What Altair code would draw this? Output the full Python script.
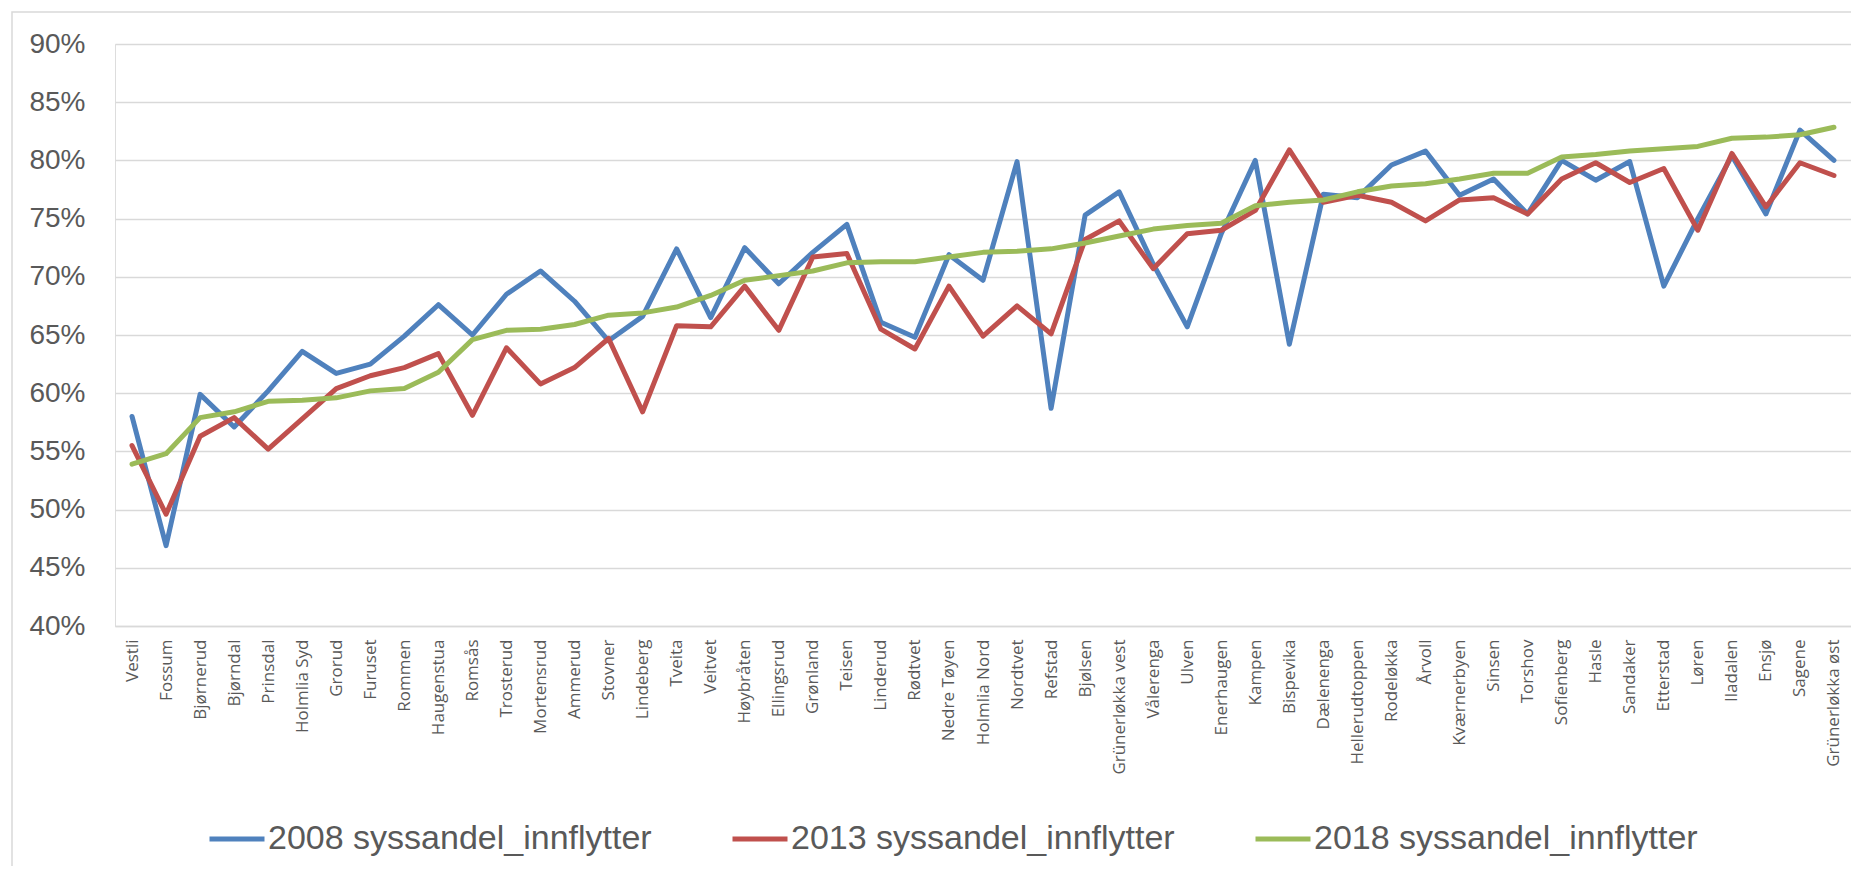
import altair as alt
import pandas as pd

categories = ["Vestli", "Fossum", "Bjørnerud", "Bjørndal", "Prinsdal", "Holmlia Syd", "Grorud",
              "Furuset", "Rommen", "Haugenstua", "Romsås", "Trosterud", "Mortensrud", "Ammerud",
              "Stovner", "Lindeberg", "Tveita", "Veitvet", "Høybråten", "Ellingsrud", "Grønland",
              "Teisen", "Linderud", "Rødtvet", "Nedre Tøyen", "Holmlia Nord", "Nordtvet", "Refstad",
              "Bjølsen", "Grünerløkka vest", "Vålerenga", "Ulven", "Enerhaugen", "Kampen", "Bispevika",
              "Dælenenga", "Hellerudtoppen", "Rodeløkka", "Årvoll", "Kværnerbyen", "Sinsen", "Torshov",
              "Sofienberg", "Hasle", "Sandaker", "Etterstad", "Løren", "Iladalen", "Ensjø", "Sagene",
              "Grünerløkka øst"]

v2008 = [58.0, 46.9, 59.9, 57.1, 60.2, 63.6, 61.7, 62.5, 64.9, 67.6, 65.0, 68.5, 70.5, 67.9,
         64.5, 66.6, 72.4, 66.5, 72.5, 69.4, 72.1, 74.5, 66.1, 64.8, 71.9, 69.7, 79.9, 58.7,
         75.3, 77.3, 71.1, 65.7, 73.7, 80.0, 64.2, 77.1, 76.8, 79.6, 80.8, 77.0, 78.4, 75.4,
         80.0, 78.3, 79.9, 69.2, 75.0, 80.4, 75.4, 82.6, 80.0]

v2013 = [55.5, 49.6, 56.3, 57.9, 55.2, 57.8, 60.4, 61.5, 62.2, 63.4, 58.1, 63.9, 60.8, 62.2,
         64.7, 58.4, 65.8, 65.7, 69.2, 65.4, 71.7, 72.0, 65.5, 63.8, 69.2, 64.9, 67.5, 65.1,
         73.2, 74.8, 70.7, 73.7, 74.0, 75.7, 80.9, 76.4, 77.0, 76.4, 74.8, 76.6, 76.8, 75.4,
         78.4, 79.8, 78.1, 79.3, 74.0, 80.6, 76.0, 79.8, 78.7]

v2018 = [53.9, 54.8, 57.9, 58.4, 59.3, 59.4, 59.6, 60.2, 60.4, 61.8, 64.6, 65.4, 65.5, 65.9,
         66.7, 66.9, 67.4, 68.4, 69.7, 70.1, 70.5, 71.2, 71.3, 71.3, 71.7, 72.1, 72.2, 72.4,
         72.9, 73.5, 74.1, 74.4, 74.6, 76.1, 76.4, 76.6, 77.3, 77.8, 78.0, 78.4, 78.9, 78.9,
         80.3, 80.5, 80.8, 81.0, 81.2, 81.9, 82.0, 82.2, 82.85]

series_names = ["2008 syssandel_innflytter", "2013 syssandel_innflytter", "2018 syssandel_innflytter"]
series_colors = ["#4F81BD", "#C0504D", "#9BBB59"]
y_ticks = [40, 45, 50, 55, 60, 65, 70, 75, 80, 85, 90]

rows = []
for name, vals in zip(series_names, [v2008, v2013, v2018]):
    for i, (c, v) in enumerate(zip(categories, vals)):
        rows.append({"bydel": c, "serie": name, "verdi": v, "order": i})
df = pd.DataFrame(rows)

lines = alt.Chart(df).mark_line(strokeWidth=5, strokeCap="round", strokeJoin="round").encode(
    x=alt.X("bydel:N", sort=categories, title=None,
            axis=alt.Axis(labelAngle=-90, labelFontSize=17, labelFont="Open Sans",
                          labelColor="#595959", labelPadding=13, ticks=False, tickSize=0,
                          domain=True, domainColor="#D9D9D9", domainWidth=1.5, grid=False,
                          labelOverlap=False)),
    y=alt.Y("verdi:Q", title=None, scale=alt.Scale(domain=[40, 90], nice=False, zero=False),
            axis=alt.Axis(values=y_ticks, labelExpr="datum.value + '%'", labelFontSize=28,
                          labelFont="Liberation Sans", labelColor="#595959", labelPadding=30,
                          ticks=False, tickSize=0, domain=False, grid=True,
                          gridColor="#D9D9D9", gridWidth=1.5)),
    color=alt.Color("serie:N", sort=series_names,
                    scale=alt.Scale(domain=series_names, range=series_colors),
                    legend=alt.Legend(title=None, orient="none", direction="horizontal",
                                      legendX=92, legendY=765, symbolType="stroke",
                                      symbolSize=3025, symbolStrokeWidth=5,
                                      labelFontSize=34, labelFont="Liberation Sans",
                                      labelColor="#595959", labelOffset=1, columnPadding=70,
                                      padding=0, labelLimit=600)),
    order=alt.Order("order:Q"),
)

border = alt.Chart(pd.DataFrame({"a": [0]})).mark_rect(
    fill=None, stroke="#D9D9D9", strokeWidth=1.5
).encode(
    x=alt.value(-103), x2=alt.value(1800), y=alt.value(-32), y2=alt.value(900)
)

chart = alt.layer(border, lines).properties(
    width=1736, height=582,
    autosize=alt.AutoSizeParams(type="none"),
    padding={"left": 107, "top": 36, "right": 0, "bottom": 240},
).configure_view(stroke=None).configure(background="white")

chart.save("out.html", embed_options={"renderer": "svg", "actions": False})
